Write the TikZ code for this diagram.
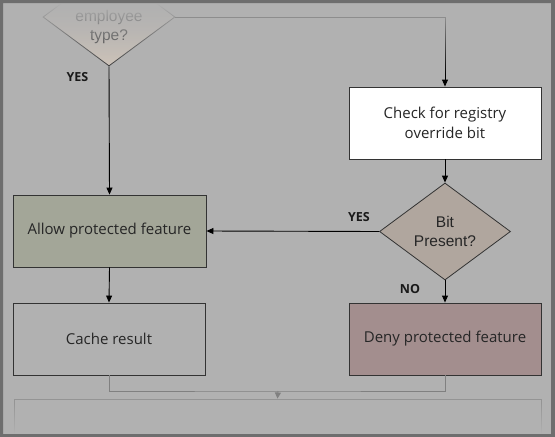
\documentclass[tikz,border=0pt]{standalone}
\usepackage{fontspec}
\setmainfont{Open Sans}
\newfontfamily\arialfont{Liberation Sans}
\usetikzlibrary{arrows.meta,shapes.geometric,fadings}
\definecolor{bgGrey}{HTML}{B1B1B1}
\definecolor{frameGrey}{HTML}{6E6E6E}
\definecolor{allowGreen}{HTML}{A3A698}
\definecolor{denyRed}{HTML}{A38E8E}
\definecolor{bitTan}{HTML}{B0A69E}
\definecolor{empTan}{HTML}{D2C6BA}
\definecolor{inkGrey}{HTML}{262626}
\tikzfading[name=fadetop, top color=transparent!0, bottom color=transparent!100]
\tikzfading[name=fadebottom, top color=transparent!100, bottom color=transparent!0]
\tikzset{
	stepbox/.style={draw=black!80, line width=0.9pt, minimum width=192pt, minimum height=72pt, inner sep=0pt, text=inkGrey, align=center, font=\fontsize{15}{20}\selectfont},
	decision/.style={diamond, draw=black!80, line width=0.8pt, minimum width=131pt, minimum height=97pt, aspect=1.35, inner sep=0pt},
	decisiontext/.style={text=inkGrey, align=center, font=\arialfont\fontsize{15.5}{19}\selectfont},
	flow/.style={-{Triangle[length=7pt,width=6pt]}, line width=0.9pt, black},
	merge/.style={line width=0.9pt, black!50},
	answer/.style={text=black!90, font=\bfseries\fontsize{12.5}{14}\selectfont}
}

\begin{document}
\begin{tikzpicture}[x=1pt, y=-1pt]
		%%%%% START %%%%%
		\useasboundingbox (0,0) rectangle (555,437);
		\fill[bgGrey] (0,0) rectangle (555,437);
		
		\node[decision, top color=bgGrey, bottom color=empTan, minimum width=132pt, minimum height=98pt] (emp) at (109,17) {};
		\node[decisiontext] (empText) at (109,26.5) {employee\\type?};
		
		\node[stepbox, fill=white] (check) at (445,123) {Check for registry\\override bit};
		\node[decision, fill=bitTan] (bit) at (445,231.5) {};
		\node[decisiontext] (bitText) at (445,231.5) {Bit\\Present?};
		
		\node[stepbox, fill=allowGreen, minimum width=193pt] (allow) at (109.5,231) {Allow protected feature};
		\node[stepbox] (cache) at (109,339) {Cache result};
		\node[stepbox, fill=denyRed] (deny) at (445,339) {Deny protected feature};
		\node[draw=black!42, line width=0.9pt, minimum width=527pt, minimum height=80pt] (next) at (277.5,439) {};
		
		\coordinate (join) at (278,391);
		
		\draw[flow] (emp.south) -- (allow.north);
		\draw[flow] (emp.east) -| (check.north);
		\draw[flow] (check.south) -- (bit.north);
		\draw[flow] (bit.west) -- (allow.east);
		\draw[flow] (bit.south) -- (deny.north);
		\draw[flow] (allow.south) -- (cache.north);
		\draw[merge] (cache.south) |- (join) -| (deny.south);
		\draw[merge, -{Triangle[length=6pt,width=6pt]}] (join) -- (next.north);
		
		\node[answer] (yesEmp) at (77.5,77) {YES};
		\node[answer] (yesBit) at (359,217.5) {YES};
		\node[answer] (noBit) at (410,289.5) {NO};
		
		% faded edges of the snippet
		\fill[bgGrey, path fading=fadetop] (3,3) rectangle (551,74);
		\fill[bgGrey, path fading=fadebottom] (3,402) rectangle (551,434);
		
		\fill[frameGrey, even odd rule] (0,0) rectangle (555,437) (3,3) rectangle (551,434);
		%%%%% END %%%%%
\end{tikzpicture}
\end{document}
